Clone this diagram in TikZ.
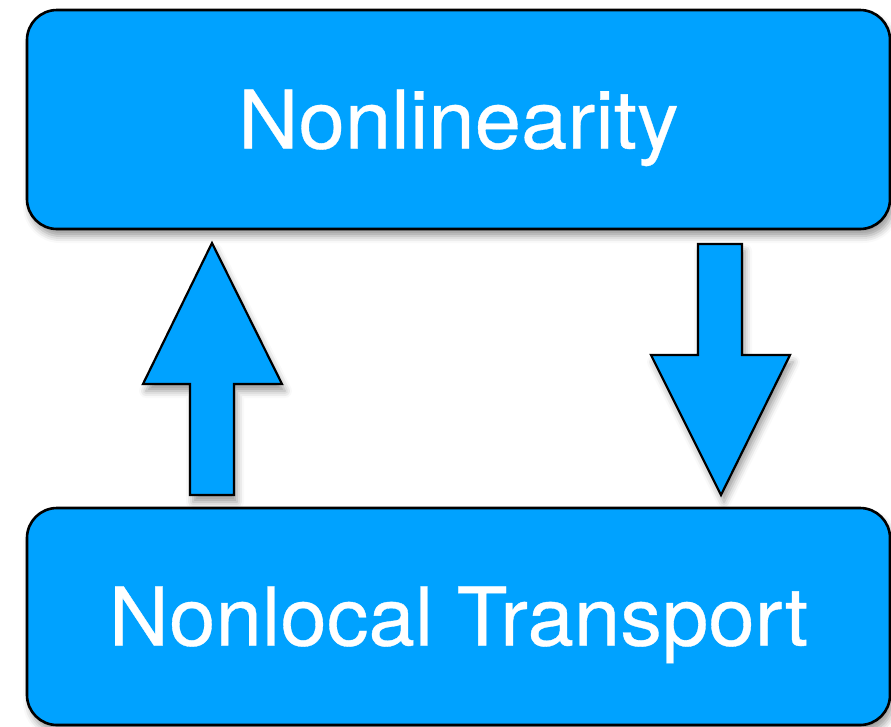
\documentclass[tikz,border=0pt]{standalone}
\usepackage{fontspec}
\setmainfont[FakeStretch=1.03,FakeBold=0.4]{TeX Gyre Heros}
\usetikzlibrary{shadows.blur}
\definecolor{boxblue}{HTML}{00A2FF}
\begin{document}
\begin{tikzpicture}[x=1pt,y=-1pt,
  softshadow/.style={blur shadow={shadow xshift=3pt,shadow yshift=-7pt,shadow blur radius=7pt,shadow opacity=40}},
  topicbox/.style={draw=black,line width=2.6pt,fill=boxblue,rounded corners=30pt,
    inner sep=0pt,minimum width=863pt,text=white,
    text height=58pt,text depth=0pt,
    font=\fontsize{81}{90}\selectfont,softshadow},
  blockarrow/.style={draw=black,line width=2.2pt,fill=boxblue,line join=miter,softshadow}]
  \useasboundingbox (0,0) rectangle (891,726);
  % the two boxes
  \node[topicbox,minimum height=219pt] (nl) at (458.5,119.5) {Nonlinearity};
  \node[topicbox,minimum height=217pt] (nt) at (458.5,616.5) {Nonlocal Transport};
  % upward block arrow on the left
  \draw[blockarrow] (190,495) -- (190,384) -- (143,384) -- (212,243) -- (282,384)
    -- (234,384) -- (234,495) -- cycle;
  % downward block arrow on the right
  \draw[blockarrow] (698,244) -- (742,244) -- (742,355) -- (790,355) -- (721,495)
    -- (651,355) -- (698,355) -- cycle;
\end{tikzpicture}
\end{document}
